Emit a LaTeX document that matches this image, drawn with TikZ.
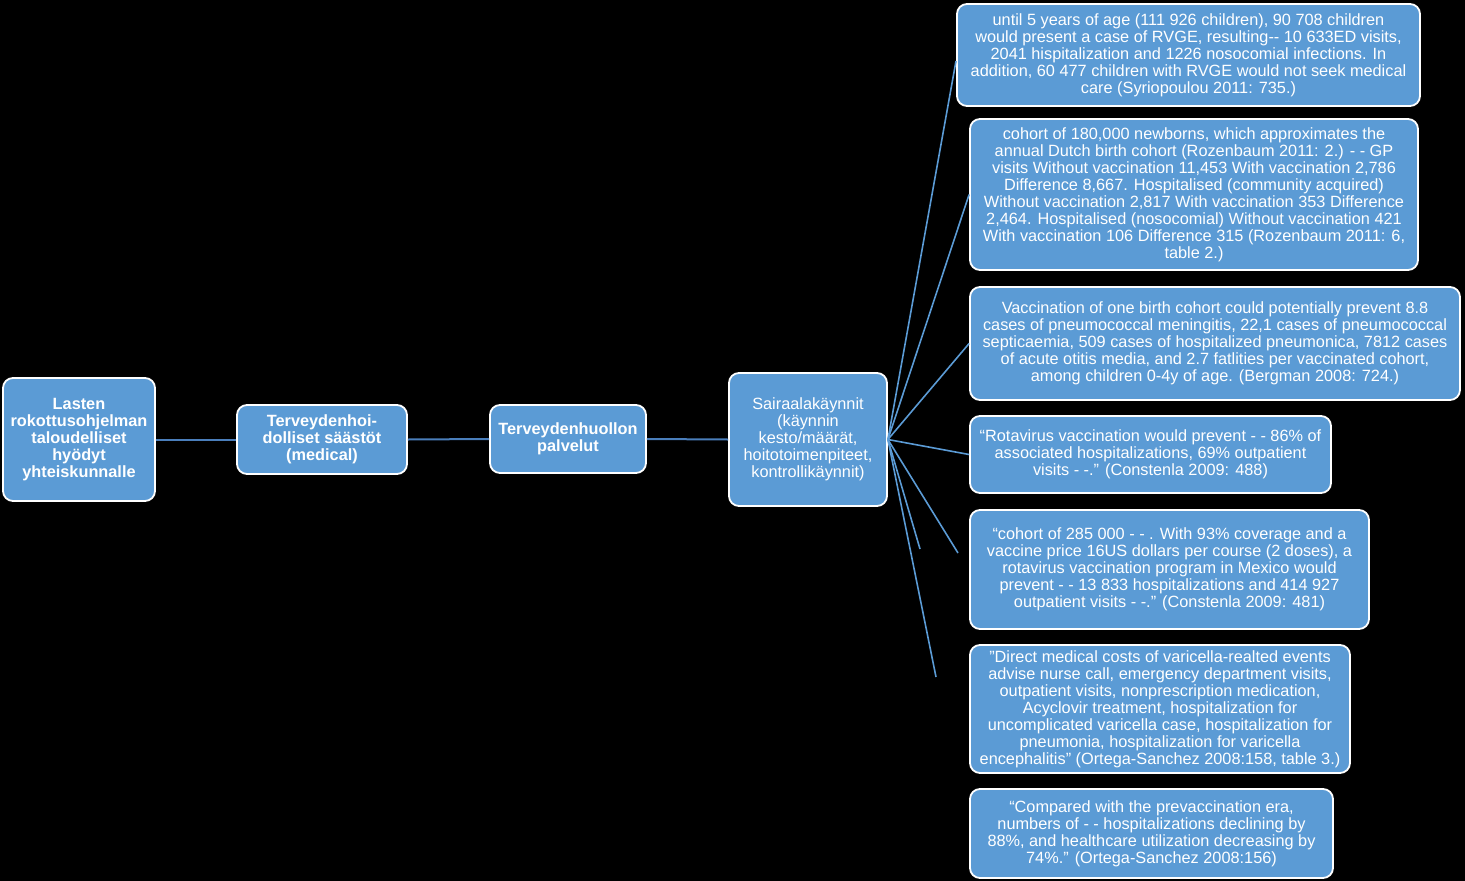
\documentclass[tikz,border=0pt]{standalone}
\usepackage{fontspec}
\setmainfont{Liberation Sans}
\definecolor{boxblue}{HTML}{5B9BD5}
\definecolor{linkblue}{HTML}{4A7EBB}
\definecolor{fanblue}{HTML}{5B9BD5}
\begin{document}
\begin{tikzpicture}[x=1pt,y=-1pt,
  bx/.style={draw=white,line width=1.8pt,fill=boxblue,rounded corners=10pt,
    text=white,align=center,inner sep=0pt,font=\fontsize{16.3}{17}\selectfont},
  bxb/.style={bx,font=\fontsize{16.3}{17}\selectfont\bfseries},
  link/.style={draw=linkblue,line width=2pt},
  fan/.style={draw=fanblue,line width=1.6pt}]
\useasboundingbox (0,0) rectangle (1465,881);
\fill[black] (0,0) rectangle (1465,881);

\node[bxb,minimum width=152pt,minimum height=123pt] (A) at (79,439.5)
  {Lasten\\rokottusohjelman\\taloudelliset\\hyödyt\\yhteiskunnalle};
\node[bxb,minimum width=170pt,minimum height=69pt] (B) at (322,439.5)
  {Terveydenhoi-\\dolliset  säästöt\\(medical)};
\node[bxb,minimum width=156pt,minimum height=68pt] (C) at (568,439)
  {Terveydenhuollon\\palvelut};
\node[bx,minimum width=158pt,minimum height=133pt] (D) at (808,439.5)
  {Sairaalakäynnit\\(käynnin\\kesto/määrät,\\hoitotoimenpiteet,\\kontrollikäynnit)};

\node[bx,minimum width=463pt,minimum height=102pt] (E1) at (1188.5,55)
  {until 5 years of age (111 926 children),  90 708 children\\
   would present a case of RVGE, resulting-{}- 10 633ED visits,\\
   2041 hispitalization and 1226 nosocomial infections. In\\
   addition, 60 477 children with RVGE would not seek medical\\
   care (Syriopoulou 2011: 735.)};
\node[bx,minimum width=448pt,minimum height=151pt] (E2) at (1194,194.5)
  {cohort of 180,000 newborns, which approximates  the\\
   annual Dutch birth cohort (Rozenbaum  2011: 2.) - - GP\\
   visits Without vaccination 11,453 With vaccination 2,786\\
   Difference 8,667. Hospitalised  (community acquired)\\
   Without vaccination 2,817 With vaccination 353 Difference\\
   2,464. Hospitalised  (nosocomial) Without vaccination 421\\
   With vaccination 106 Difference 315 (Rozenbaum  2011: 6,\\
   table 2.)};
\node[bx,minimum width=490pt,minimum height=113pt] (E3) at (1215,343.5)
  {Vaccination of one birth cohort could potentially  prevent 8.8\\
   cases of pneumococcal meningitis, 22,1 cases of pneumococcal\\
   septicaemia, 509 cases of hospitalized  pneumonica, 7812 cases\\
   of acute otitis media, and 2.7 fatlities per vaccinated cohort,\\
   among children 0-4y of age. (Bergman 2008: 724.)};
\node[bx,minimum width=361pt,minimum height=77pt] (E4) at (1150.5,454.5)
  {“Rotavirus vaccination would prevent - - 86\% of\\
   associated hospitalizations, 69\% outpatient\\
   visits - -.” (Constenla 2009: 488)};
\node[bx,minimum width=399pt,minimum height=119pt] (E5) at (1169.5,569.5)
  {“cohort of 285 000 - - . With 93\% coverage and a\\
   vaccine price 16US dollars per course (2 doses), a\\
   rotavirus vaccination program in Mexico would\\
   prevent - - 13 833 hospitalizations  and 414 927\\
   outpatient visits - -.” (Constenla 2009: 481)};
\node[bx,minimum width=380pt,minimum height=128pt] (E6) at (1160,709)
  {”Direct medical costs of varicella-realted  events\\
   advise nurse call, emergency department visits,\\
   outpatient visits, nonprescription medication,\\
   Acyclovir treatment,  hospitalization  for\\
   uncomplicated varicella case, hospitalization  for\\
   pneumonia, hospitalization  for varicella\\
   encephalitis” (Ortega-Sanchez 2008:158, table 3.)};
\node[bx,minimum width=363pt,minimum height=89pt] (E7) at (1151.5,833.5)
  {“Compared with the prevaccination era,\\
   numbers of - - hospitalizations  declining by\\
   88\%, and healthcare utilization decreasing by\\
   74\%.” (Ortega-Sanchez 2008:156)};

\draw[link] (A.east) -- (B.west);
\draw[link] (B.east) -- (C.west);
\draw[link] (C.east) -- (D.west);

\coordinate (F1) at (956,61);
\coordinate (F5) at (958,553);
\coordinate (F6) at (920,549);
\coordinate (F7) at (936,677);
\draw[fan] (D.east) -- (F1);
\draw[fan] (D.east) -- (E2.west);
\draw[fan] (D.east) -- (E3.west);
\draw[fan] (D.east) -- (E4.west);
\draw[fan] (D.east) -- (F5);
\draw[fan] (D.east) -- (F6);
\draw[fan] (D.east) -- (F7);
\end{tikzpicture}
\end{document}
